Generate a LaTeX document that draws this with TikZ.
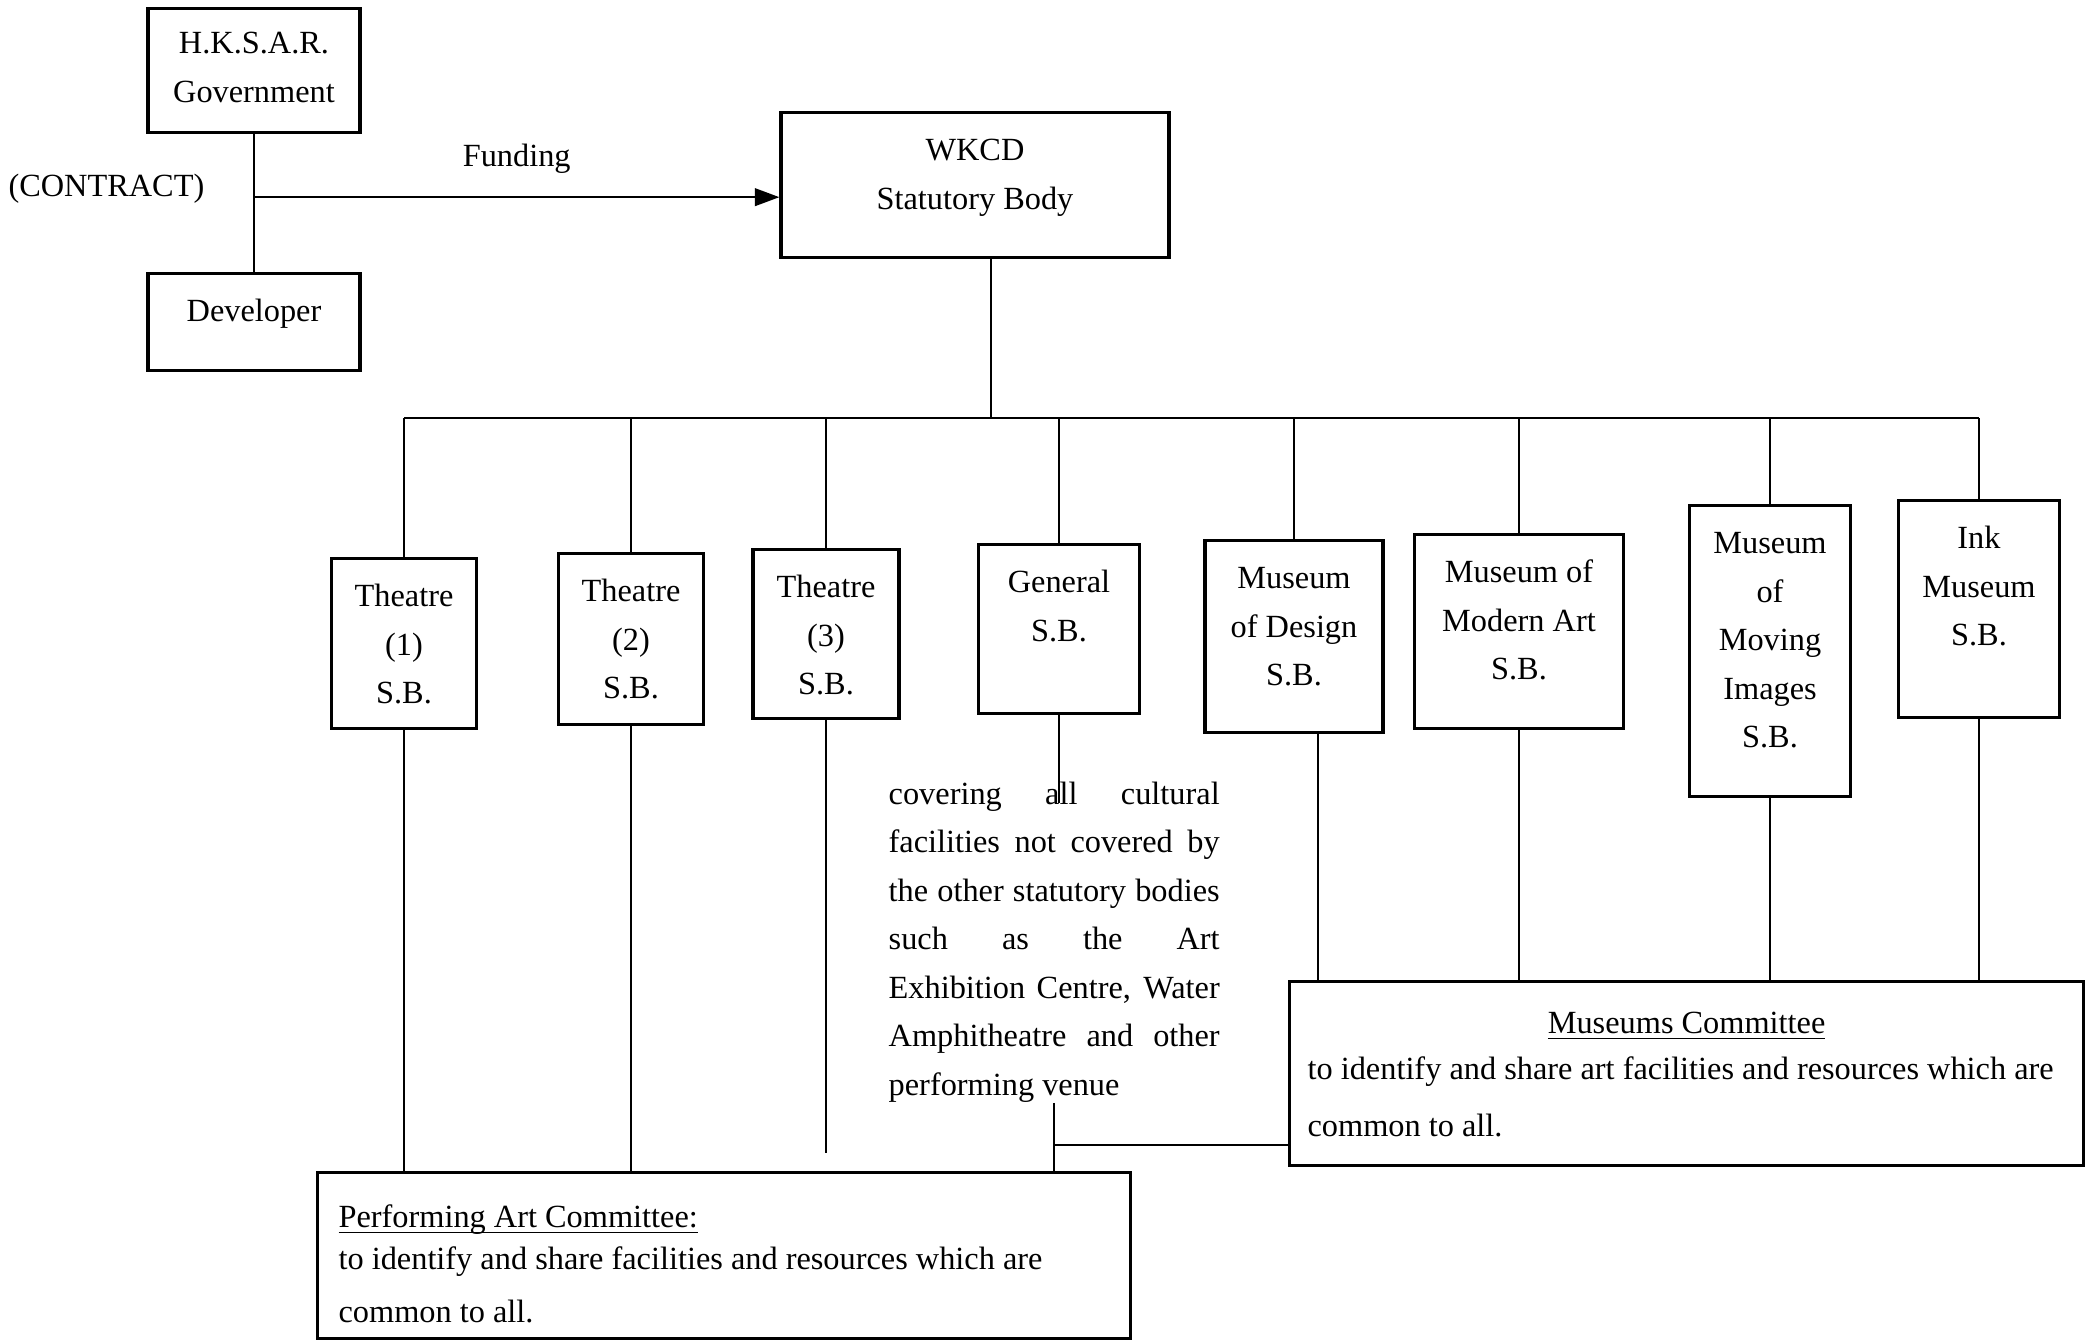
\documentclass[tikz,border=0pt]{standalone}
\usepackage{fontspec}
\setmainfont{Liberation Serif}
\usetikzlibrary{arrows.meta,positioning,calc}
\newcommand{\inbox}[4][1.4mm]{\parbox[c][#3][t]{#2}{\vspace*{#1}\strut#4}}
\newcommand{\jline}[1]{\makebox[33.1mm][s]{#1}}
\newcommand{\uln}[1]{\underline{\smash{#1}}}
\tikzset{bx/.style={draw,line width=0.9pt,inner sep=0pt},cbox/.style={bx,inner xsep=1.8mm},
 wire/.style={line width=0.7pt},flow/.style={-{Triangle[length=7pt,width=5pt]},line width=0.7pt},
 txt/.style={inner sep=0pt}}
\begin{document}
\begin{tikzpicture}[x=0.1mm,y=-0.1mm,font=\fontsize{9.2}{13.8}\selectfont]
\useasboundingbox (0,0) rectangle (2091,1343);
\node[bx,anchor=north](gov) at (254,7){\inbox[1.1mm]{21.2mm}{12.4mm}{\centering H.K.S.A.R.\\Government}};
\node[bx,anchor=north](dev) at (254,272){\inbox{21.2mm}{9.7mm}{\centering Developer}};
\node[txt,anchor=east](con) at (205,189){(CONTRACT)};
\node[bx,anchor=north](wkcd) at (975,111){\inbox{38.8mm}{14.5mm}{\centering WKCD\\Statutory Body}};
\node[bx,anchor=north](t1) at (404,557){\inbox{14.5mm}{17mm}{\centering Theatre\\(1)\\S.B.}};
\node[bx,anchor=north](t2) at (631,552){\inbox{14.5mm}{17.1mm}{\centering Theatre\\(2)\\S.B.}};
\node[bx,anchor=north](t3) at (826,548){\inbox{14.6mm}{16.9mm}{\centering Theatre\\(3)\\S.B.}};
\node[bx,anchor=north](gen) at (1059,543){\inbox{16.1mm}{16.9mm}{\centering General\\S.B.}};
\node[bx,anchor=north](md) at (1294,539){\inbox{17.8mm}{19.2mm}{\centering Museum\\of Design\\S.B.}};
\node[bx,anchor=north](mma) at (1519,533){\inbox{20.9mm}{19.4mm}{\centering Museum of\\Modern Art\\S.B.}};
\node[bx,anchor=north](mmi) at (1770,504){\inbox{16.1mm}{29.1mm}{\centering Museum\\of\\Moving\\Images\\S.B.}};
\node[bx,anchor=north](ink) at (1979,499){\inbox{16.1mm}{21.7mm}{\centering Ink\\Museum\\S.B.}};
\node[txt,anchor=north west,align=left](desc) at (888,781){\jline{covering all cultural}\\\jline{facilities not covered by}\\
 \jline{the other statutory bodies}\\\jline{such as the Art}\\\jline{Exhibition Centre, Water}\\\jline{Amphitheatre and other}\\performing venue};
\node[cbox,anchor=north west,inner xsep=2.1mm](pac) at (316,1171){\inbox[2.1mm]{77.1mm}{16.6mm}{\raggedright\uln{Performing Art Committee:}\\[-2pt]
 to identify and share facilities and resources which are\\[1.3pt]common to all.}};
\node[cbox,anchor=north west](mc) at (1288,980){\inbox[1.8mm]{75.8mm}{18.4mm}{\raggedright\makebox[\linewidth]{\uln{Museums Committee}}\\[-0.7pt]
 to identify and share art facilities and resources which are\\[2.4pt]common to all.}};
\coordinate (bus) at (0,418);
\draw[wire](gov.south)--(dev.north);
\path (gov.south) ++(0,63) coordinate (fork);
\draw[flow](fork)--(fork -| wkcd.west) node[midway,above=1.1mm](fund){Funding};
\draw[wire]([xshift=1.6mm]wkcd.south)--([xshift=1.6mm]wkcd.south |- bus);
\draw[wire](t1.north |- bus)--(ink.north |- bus);
\foreach \n in {t1,t2,t3,gen,md,mma,mmi,ink} \draw[wire](\n.north)--(\n.north |- bus);
\foreach \n in {t1,t2} \draw[wire](\n.south)--(\n.south |- pac.north);
\draw[wire](t3.south)--($(t3.south |- pac.north)+(0,-18)$);
\draw[wire](gen.south)--($(gen.south |- desc.north)+(0,22)$);
\draw[wire](desc.south)--(desc.south |- pac.north);
\path (desc.south) ++(0,42) coordinate (jn);
\draw[wire](jn)--(jn -| mc.west);
\draw[wire]([xshift=2.4mm]md.south)--([xshift=2.4mm]md.south |- mc.north);
\foreach \n in {mma,mmi,ink} \draw[wire](\n.south)--(\n.south |- mc.north);
\end{tikzpicture}
\end{document}
